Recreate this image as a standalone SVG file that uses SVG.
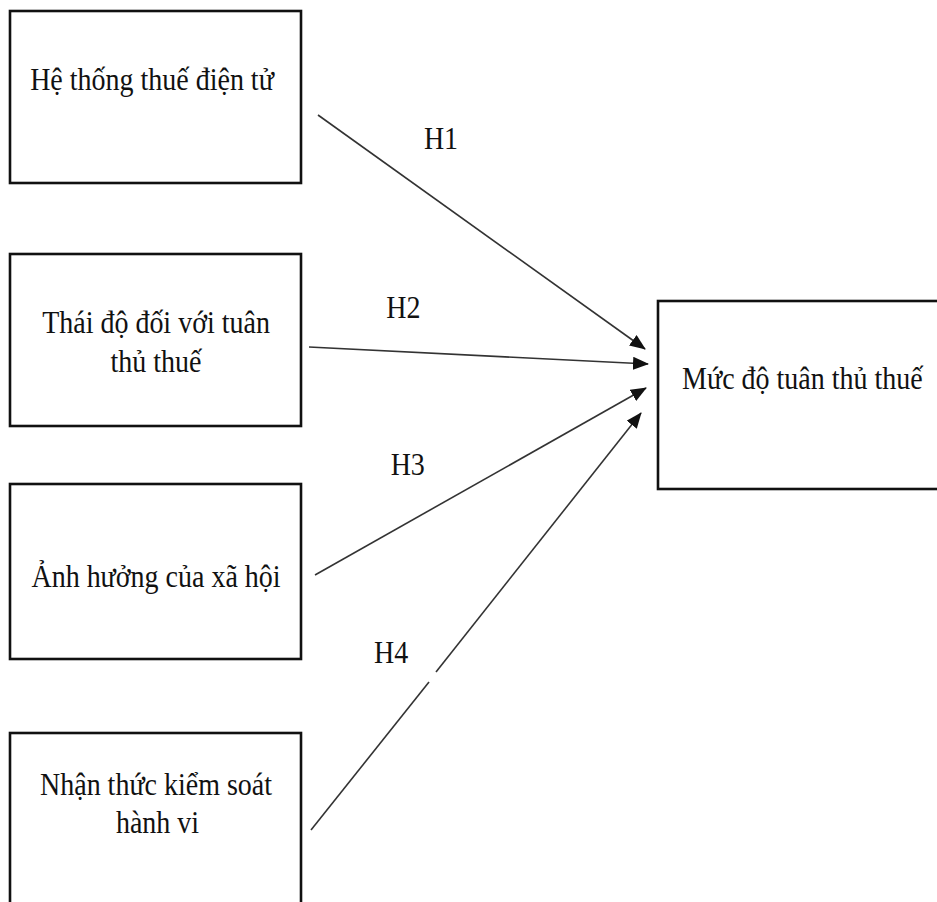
<svg xmlns="http://www.w3.org/2000/svg" width="937" height="902" viewBox="0 0 937 902">
  <defs>
    <style>
      .box { fill: #ffffff; stroke: #111111; stroke-width: 2.6; }
      .lbl { font-family: "Liberation Serif", "Times New Roman", serif; font-size: 32px; fill: #111111; text-anchor: middle; }
      .edge { stroke: #333333; stroke-width: 1.6; fill: none; }
    </style>
    <marker id="arrow" markerUnits="userSpaceOnUse" markerWidth="16" markerHeight="13" refX="15" refY="6.5" orient="auto">
      <path d="M0,0 L16,6.5 L0,13 Z" fill="#111111"/>
    </marker>
  </defs>

  <rect width="937" height="902" fill="#ffffff"/>

  <!-- Text is drawn in a horizontally condensed frame (x scaled by 0.875) -->
  <g id="node-he-thong">
    <rect class="box" x="10" y="11" width="291" height="172"/>
    <text class="lbl" transform="scale(0.875 1)" x="173.7" y="90">Hệ thống thuế điện tử</text>
  </g>

  <g id="node-thai-do">
    <rect class="box" x="10" y="254" width="291" height="172"/>
    <text class="lbl" transform="scale(0.875 1)" x="178.3" y="333">Thái độ đối với tuân</text>
    <text class="lbl" transform="scale(0.875 1)" x="178.3" y="372">thủ thuế</text>
  </g>

  <g id="node-anh-huong">
    <rect class="box" x="10" y="484" width="291" height="175"/>
    <text class="lbl" transform="scale(0.875 1)" x="178.3" y="587">Ảnh hưởng của xã hội</text>
  </g>

  <g id="node-nhan-thuc">
    <rect class="box" x="10" y="733" width="291" height="180"/>
    <text class="lbl" transform="scale(0.875 1)" x="178.3" y="795">Nhận thức kiểm soát</text>
    <text class="lbl" transform="scale(0.875 1)" x="180" y="833">hành vi</text>
  </g>

  <g id="node-muc-do">
    <rect class="box" x="658" y="301" width="290" height="188"/>
    <text class="lbl" transform="scale(0.875 1)" x="917" y="389">Mức độ tuân thủ thuế</text>
  </g>

  <g id="connectors">
    <line class="edge" x1="318" y1="115" x2="645" y2="349" marker-end="url(#arrow)"/>
    <line class="edge" x1="309" y1="347" x2="648" y2="364" marker-end="url(#arrow)"/>
    <line class="edge" x1="315" y1="575" x2="646" y2="388" marker-end="url(#arrow)"/>
    <line class="edge" x1="311" y1="830" x2="429" y2="682"/>
    <line class="edge" x1="436" y1="672" x2="641" y2="413" marker-end="url(#arrow)"/>
    <text class="lbl" transform="scale(0.875 1)" x="504" y="149">H1</text>
    <text class="lbl" transform="scale(0.875 1)" x="461" y="318">H2</text>
    <text class="lbl" transform="scale(0.875 1)" x="466" y="475">H3</text>
    <text class="lbl" transform="scale(0.875 1)" x="447" y="663">H4</text>
  </g>
</svg>
